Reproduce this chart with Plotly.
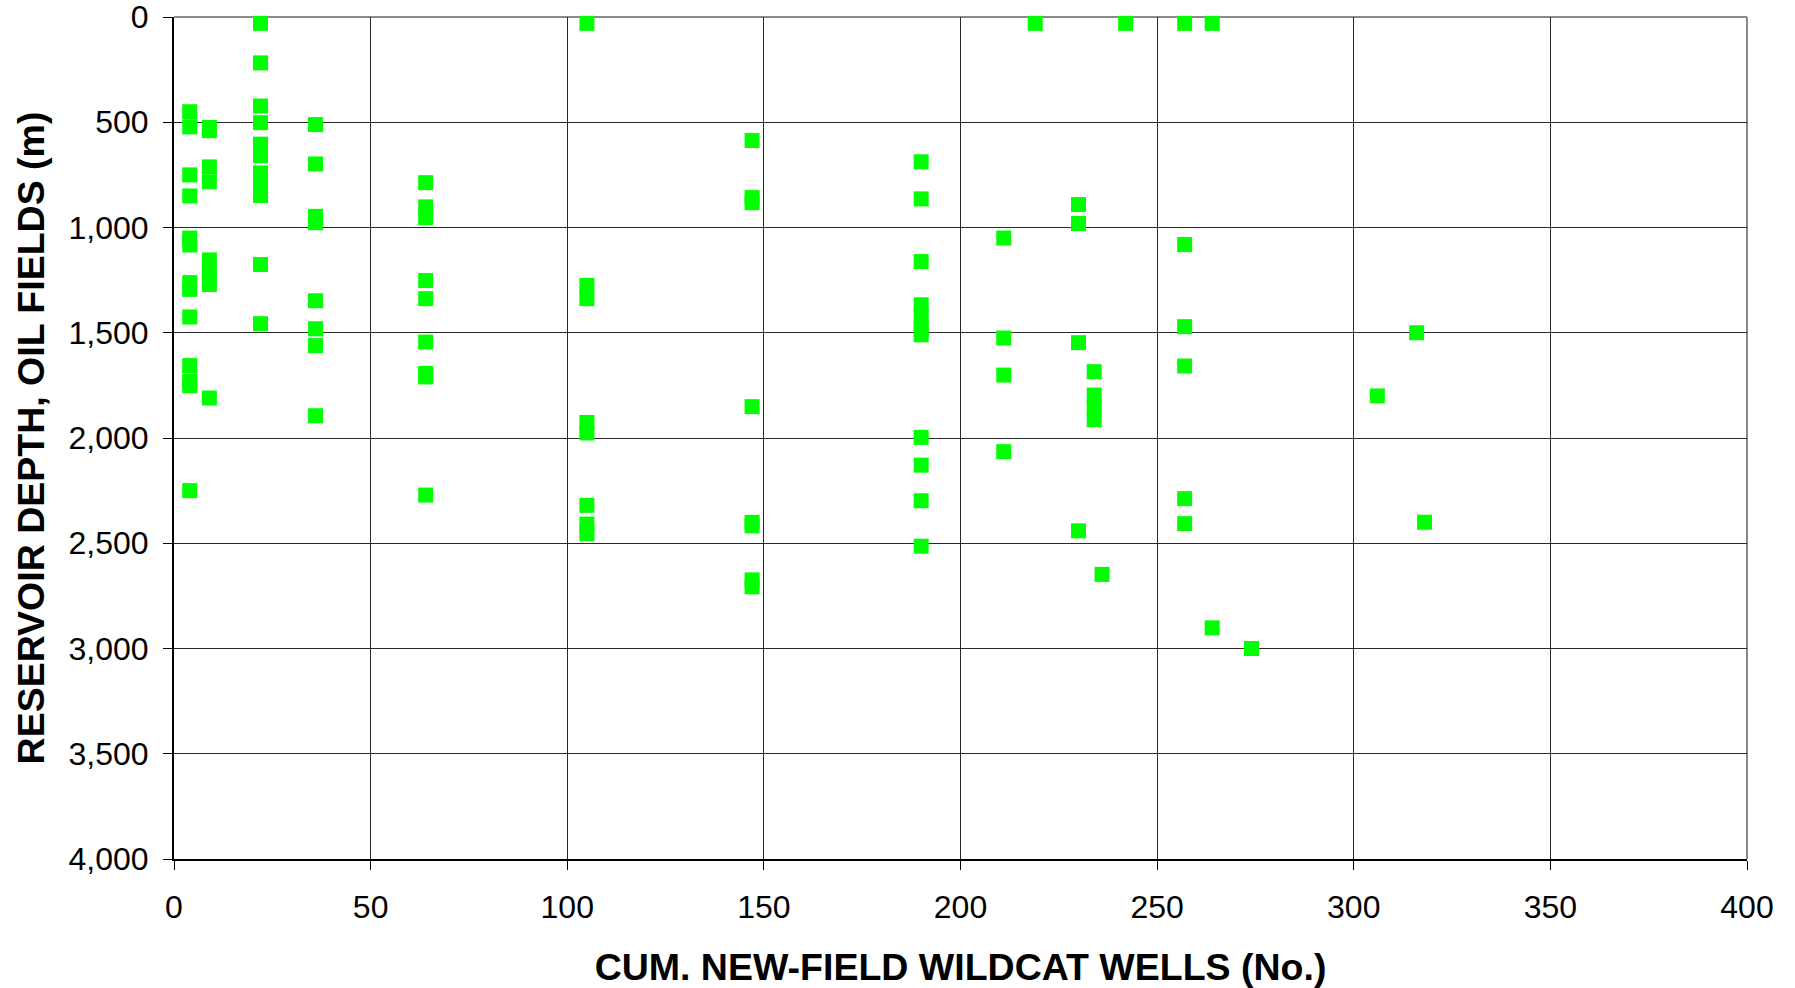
import plotly.graph_objects as go

# Cumulative new-field wildcat wells (No.) for each discovered oil field
wells = (
    [4] * 13 + [9] * 8 + [22] * 11 + [36] * 8 + [64] * 9 + [105] * 8 + [147] * 8
    + [190] * 11 + [211] * 4 + [219] + [230] * 4 + [234] * 4 + [236] + [242]
    + [257] * 6 + [264] * 2 + [274] + [306] + [316] + [318]
)

# Reservoir depth (m) of each oil field, in the same order as wells
depth_c4 = [450, 522, 750, 850, 1050, 1083, 1262, 1294, 1425, 1656, 1729, 1752, 2250]
depth_c9 = [525, 540, 712, 783, 1154, 1216, 1271, 1810]
depth_c22 = [30, 218, 423, 502, 604, 659, 741, 795, 848, 1176, 1457]
depth_c36 = [511, 698, 947, 977, 1348, 1481, 1561, 1894]
depth_c64 = [787, 902, 953, 1252, 1338, 1544, 1693, 1710, 2271]
depth_c105 = [30, 1275, 1338, 1926, 1976, 2320, 2409, 2455]
depth_c147 = [587, 858, 882, 1851, 2401, 2417, 2674, 2707]
depth_c190 = [688, 864, 1162, 1367, 1425, 1485, 1510, 1997, 2129, 2298, 2514]
depth_c211 = [1050, 1525, 1701, 2065]
depth_c219 = [30]
depth_c230 = [891, 981, 1547, 2441]
depth_c234 = [1685, 1796, 1855, 1913]
depth_c236 = [2648]
depth_c242 = [30]
depth_c257 = [30, 1081, 1471, 1658, 2288, 2407]
depth_c264 = [30, 2902]
depth_c274 = [3000]
depth_c306 = [1800]
depth_c316 = [1500]
depth_c318 = [2400]

depths = (
    depth_c4 + depth_c9 + depth_c22 + depth_c36 + depth_c64 + depth_c105 + depth_c147
    + depth_c190 + depth_c211 + depth_c219 + depth_c230 + depth_c234 + depth_c236
    + depth_c242 + depth_c257 + depth_c264 + depth_c274 + depth_c306 + depth_c316
    + depth_c318
)

x_ticks = [0, 50, 100, 150, 200, 250, 300, 350, 400]
y_ticks = [0, 500, 1000, 1500, 2000, 2500, 3000, 3500, 4000]

x_title = "CUM. NEW-FIELD WILDCAT WELLS (No.)"
y_title = "RESERVOIR DEPTH, OIL FIELDS (m)"

FONT = "Liberation Sans, Arial, sans-serif"

fig = go.Figure()
fig.add_trace(go.Scatter(
    x=wells, y=depths, mode="markers",
    marker=dict(symbol="square", size=15, color="#00FF00",
                line=dict(width=0)),
    cliponaxis=False, showlegend=False,
))

fig.update_layout(
    width=1795, height=988,
    margin=dict(l=174, r=48, t=17, b=129),
    paper_bgcolor="white", plot_bgcolor="white",
    font=dict(family=FONT, color="black"),
)

fig.update_xaxes(
    range=[0, 400], tickvals=x_ticks, ticktext=[str(v) for v in x_ticks],
    showgrid=True, gridcolor="#2a2a2a", gridwidth=1,
    showline=True, linecolor="black", linewidth=2,
    ticks="outside", ticklen=9, tickcolor="black",
    tickfont=dict(size=32, family=FONT), ticklabelstandoff=10,
    ticklabeloverflow="allow",
    zeroline=False, automargin=False,
    title=dict(text=f"<b>{x_title}</b>", font=dict(size=37.5, family=FONT), standoff=29),
)
fig.update_yaxes(
    range=[4000, 0], tickvals=y_ticks, ticktext=[f"{v:,}" for v in y_ticks],
    showgrid=True, gridcolor="#2a2a2a", gridwidth=1,
    showline=True, linecolor="black", linewidth=2,
    ticks="outside", ticklen=9, tickcolor="black",
    tickfont=dict(size=32, family=FONT), ticklabelstandoff=8,
    ticklabeloverflow="allow",
    zeroline=False, automargin=False,
    title=dict(text=f"<b>{y_title}</b>", font=dict(size=37.5, family=FONT), standoff=12),
)

# grey frame on top and right of the plot area
fig.add_shape(type="line", xref="paper", yref="paper", x0=0, x1=1, y0=1, y1=1,
              line=dict(color="#8a8a8a", width=2), layer="below")
fig.add_shape(type="line", xref="paper", yref="paper", x0=1, x1=1, y0=0, y1=1,
              line=dict(color="#8a8a8a", width=2), layer="below")

# remove the page's default 8px body margin so the figure fills the window
fig.write_html("out.html", config={"displayModeBar": False},
               post_script="document.body.style.margin='0';")
